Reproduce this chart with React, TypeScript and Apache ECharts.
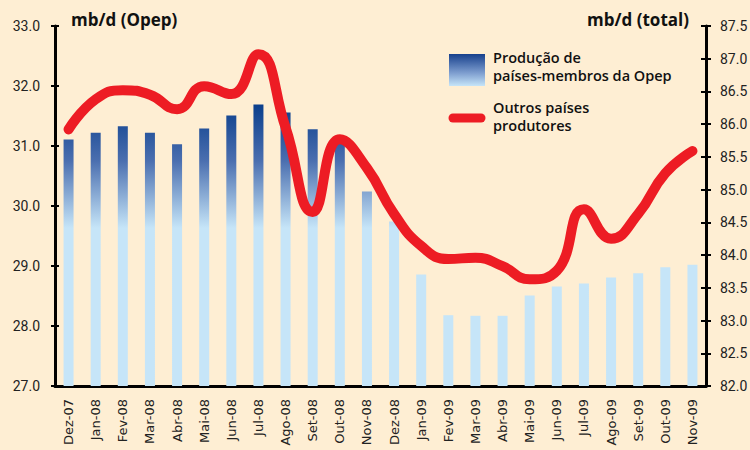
import React, { useEffect, useRef } from "react";
import * as echarts from "echarts";

const categories = [
  "Dez-07", "Jan-08", "Fev-08", "Mar-08", "Abr-08", "Mai-08", "Jun-08", "Jul-08",
  "Ago-08", "Set-08", "Out-08", "Nov-08", "Dez-08", "Jan-09", "Fev-09", "Mar-09",
  "Abr-09", "Mai-09", "Jun-09", "Jul-09", "Ago-09", "Set-09", "Out-09", "Nov-09",
];

const opepValues = [
  31.11, 31.22, 31.33, 31.22, 31.03, 31.29, 31.51, 31.69,
  31.56, 31.28, 31.05, 30.24, 29.74, 28.86, 28.18, 28.17,
  28.17, 28.51, 28.66, 28.71, 28.81, 28.88, 28.98, 29.02,
];

const outrosValues = [
  85.92, 86.38, 86.52, 86.45, 86.23, 86.58, 86.46, 87.07,
  85.95, 84.66, 85.77, 85.33, 84.63, 84.14, 83.94, 83.96,
  83.83, 83.63, 83.76, 84.70, 84.25, 84.63, 85.25, 85.59,
];

const FONT = "Roboto";
const XFONT = "DejaVu Sans";
const TITLE_FONT = "Open Sans";

export default function App() {
  const ref = useRef<HTMLDivElement>(null);
  useEffect(() => {
    if (!ref.current) return;
    const chart = echarts.init(ref.current, null, { renderer: "svg" });
    const barGradient = {
      type: "linear",
      x: 0, y: 105, x2: 0, y2: 228,
      global: true,
      colorStops: [
        { offset: 0, color: "#0b3f8c" },
        { offset: 0.45, color: "#4a6eaf" },
        { offset: 1, color: "#c6e5f8" },
      ],
    };
    const legendGradient = new echarts.graphic.LinearGradient(0, 0, 0, 1, [
      { offset: 0, color: "#17408c" },
      { offset: 0.6, color: "#7f9fd0" },
      { offset: 1, color: "#c6e5f8" },
    ]);
    const labelStyle = { fontFamily: FONT, fontSize: 14, color: "#222" };
    const legendText = (text: string, y: number) => ({
      type: "text",
      x: 493, y,
      style: { text, fontFamily: TITLE_FONT, fontWeight: 600, fontSize: 14.5, fill: "#111" },
    });
    chart.setOption({
      animation: false,
      backgroundColor: "#feeed3",
      grid: { left: 55, right: 44, top: 26, bottom: 64, containLabel: false, outerBoundsMode: "none" },
      xAxis: {
        type: "category",
        data: categories,
        boundaryGap: true,
        axisLine: { lineStyle: { color: "#000", width: 3 } },
        axisTick: { show: false },
        axisLabel: {
          rotate: 90,
          interval: 0,
          margin: 13,
          fontFamily: XFONT,
          fontSize: 13,
          color: "#222",
        },
      },
      yAxis: [
        {
          type: "value",
          position: "left",
          min: 27, max: 33, interval: 1,
          splitLine: { show: false },
          axisLine: { show: true, lineStyle: { color: "#000", width: 3 } },
          axisTick: { show: true, length: 4, lineStyle: { color: "#000", width: 2 } },
          axisLabel: { ...labelStyle, margin: 15, formatter: (v: number) => v.toFixed(1) },
        },
        {
          type: "value",
          position: "right",
          min: 82, max: 87.5, interval: 0.5,
          splitLine: { show: false },
          axisLine: { show: true, lineStyle: { color: "#000", width: 3 } },
          axisTick: { show: true, length: 5, lineStyle: { color: "#000", width: 2 } },
          axisLabel: { ...labelStyle, margin: 14, formatter: (v: number) => v.toFixed(1) },
        },
        {
          type: "value",
          position: "left",
          min: 27, max: 33, interval: 1,
          splitLine: { show: false },
          axisLine: { show: false },
          axisTick: { show: true, inside: true, length: 4, lineStyle: { color: "#000", width: 2 } },
          axisLabel: { show: false },
        },
        {
          type: "value",
          position: "right",
          min: 82, max: 87.5, interval: 0.5,
          splitLine: { show: false },
          axisLine: { show: false },
          axisTick: { show: true, inside: true, length: 5, lineStyle: { color: "#000", width: 2 } },
          axisLabel: { show: false },
        },
      ],
      series: [
        {
          type: "bar",
          yAxisIndex: 0,
          data: opepValues,
          barWidth: 10,
          itemStyle: { color: barGradient },
        },
        {
          type: "line",
          yAxisIndex: 1,
          data: outrosValues,
          smooth: 0.5,
          showSymbol: false,
          symbol: "none",
          lineStyle: { color: "#ed1c24", width: 10, cap: "round", join: "round" },
        },
      ],
      graphic: [
        {
          type: "text",
          x: 71, y: 11,
          style: { text: "mb/d (Opep)", fontFamily: TITLE_FONT, fontWeight: "bold", fontSize: 17, fill: "#111" },
        },
        {
          type: "text",
          x: 689, y: 11,
          style: { text: "mb/d (total)", align: "right", fontFamily: TITLE_FONT, fontWeight: "bold", fontSize: 17, fill: "#111" },
        },
        {
          type: "rect",
          shape: { x: 449, y: 54, width: 36, height: 32 },
          style: { fill: legendGradient },
        },
        legendText("Produção de", 50),
        legendText("países-membros da Opep", 68),
        {
          type: "line",
          shape: { x1: 453, y1: 118, x2: 481, y2: 118 },
          style: { stroke: "#ed1c24", lineWidth: 9, lineCap: "round" },
        },
        legendText("Outros países", 100),
        legendText("produtores", 118),
      ],
    });
    return () => chart.dispose();
  }, []);
  return <div ref={ref} style={{ width: 750, height: 450, position: "absolute", left: 0, top: 0 }} />;
}
